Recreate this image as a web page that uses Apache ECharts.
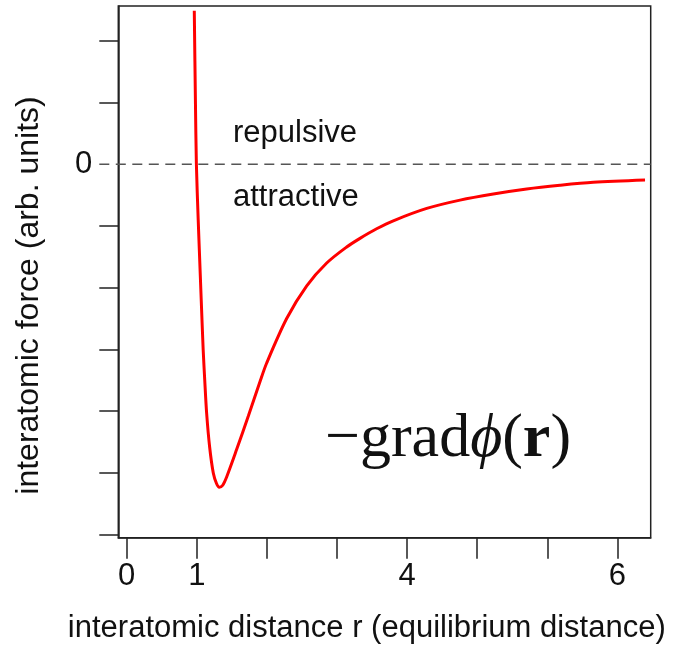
<!DOCTYPE html>
<html>
<head>
<meta charset="utf-8">
<script src="https://cdn.jsdelivr.net/npm/echarts@6/dist/echarts.min.js"></script>
<style>
  html, body { margin: 0; padding: 0; background: #fff; }
  #main { width: 674px; height: 646px; }
</style>
</head>
<body>
<div id="main"></div>
<script>
// curve (x in tick units, y in tick units, 0 = no force)
var rValues = [0.964, 0.980, 0.994, 1.020, 1.036, 1.063, 1.091, 1.113, 1.140, 1.183, 1.235, 1.281, 1.321, 1.367, 1.427,
    1.569, 1.735, 1.902, 1.997, 2.282, 2.568, 2.853, 3.138, 3.328, 3.565, 3.803, 4.280, 4.755, 5.230, 5.706, 6.181, 6.656, 7.394];
var forceValues = [2.489, 1.042, 0, -0.903, -1.389, -2.199, -3.010, -3.496, -4.031, -4.582, -5.003, -5.173, -5.235, -5.206, -5.063,
    -4.62, -4.08, -3.52, -3.22, -2.50, -1.97, -1.60, -1.34, -1.20, -1.045, -0.915, -0.715, -0.580, -0.481, -0.400, -0.340, -0.292, -0.254];

var xTicks = [0, 1, 2, 3, 4, 5, 6, 7];
var xTickLabels = ['0', '1', '', '', '4', '', '', '6'];
var yTicks = [-6, -5, -4, -3, -2, -1, 1, 2];
var yLabelTicks = [0];
var yTickLabels = ['0'];

var curve = rValues.map(function (r, i) { return [r, forceValues[i]]; });

var txtFont = 'Liberation Sans, Arial, Helvetica, sans-serif';
var frameColor = '#222';

var myChart = echarts.init(document.getElementById('main'));
var option = {
    animation: false,
    backgroundColor: '#fff',
    grid: {
        left: 118.3, right: 23.3, top: 6, bottom: 108.3,
        show: true, borderColor: frameColor, borderWidth: 1.5, backgroundColor: 'transparent'
    },
    xAxis: {
        type: 'value',
        min: -0.12,
        max: 7.475,
        axisLine: { show: true, onZero: false, lineStyle: { color: frameColor, width: 1.5 } },
        axisTick: { show: true, inside: false, length: 21, customValues: xTicks,
            lineStyle: { color: frameColor, width: 1.5 } },
        axisLabel: {
            customValues: [0, 1, 4, 7],
            margin: 23,
            fontFamily: txtFont, fontSize: 31, color: '#111',
            formatter: function (v) { return xTickLabels[Math.round(v)]; }
        },
        splitLine: { show: false }
    },
    yAxis: {
        type: 'value',
        min: -6.052,
        max: 2.566,
        axisLine: { show: true, onZero: false, lineStyle: { color: frameColor, width: 1.5 } },
        axisTick: { show: true, inside: false, length: 19, customValues: yTicks,
            lineStyle: { color: frameColor, width: 1.5 } },
        axisLabel: {
            customValues: yLabelTicks,
            margin: 26,
            fontFamily: txtFont, fontSize: 31, color: '#111',
            formatter: function (v) { return yTickLabels[yLabelTicks.indexOf(Math.round(v))]; }
        },
        splitLine: { show: false }
    },
    series: [{
        type: 'line',
        data: curve,
        showSymbol: false,
        smooth: 0.3,
        lineStyle: { color: '#ff0000', width: 3 },
        z: 5
    }]
};
myChart.setOption(option);

// dashed zero line, starting where the ticks start, outside the frame
var y0 = myChart.convertToPixel({ yAxisIndex: 0 }, 0);
var serif = 'Liberation Serif, Times New Roman, serif';
myChart.setOption({
    graphic: [
        {
            type: 'line', z: 4,
            shape: { x1: 99.3, y1: y0, x2: 650.7, y2: y0 },
            style: { stroke: '#555', lineWidth: 1.5, lineDash: [10, 6.5] }
        },
        {
            type: 'text', x: 233, y: 133, z: 10,
            style: { text: 'repulsive', font: '31px ' + txtFont, fill: '#111',
                textAlign: 'left', textVerticalAlign: 'middle' }
        },
        {
            type: 'text', x: 233, y: 197, z: 10,
            style: { text: 'attractive', font: '31px ' + txtFont, fill: '#111',
                textAlign: 'left', textVerticalAlign: 'middle' }
        },
        {
            type: 'text', x: 325, y: 440, z: 10,
            style: {
                text: '{m|−grad}{p|ϕ}{m|(}{b|r}{m|)}',
                textAlign: 'left', textVerticalAlign: 'middle',
                rich: {
                    m: { fontFamily: serif, fontSize: 62, fill: '#111' },
                    p: { fontFamily: serif, fontStyle: 'italic', fontSize: 62, fill: '#111' },
                    b: { fontFamily: serif, fontWeight: 'bold', fontSize: 62, fill: '#111' }
                }
            }
        },
        {
            type: 'text', x: 366.8, y: 628, z: 10,
            style: { text: 'interatomic distance r (equilibrium distance)', font: '31px ' + txtFont, fill: '#111',
                textAlign: 'center', textVerticalAlign: 'middle' }
        },
        {
            type: 'text', x: 29, y: 295.5, z: 10, rotation: Math.PI / 2,
            style: { text: 'interatomic force (arb. units)', font: '32px ' + txtFont, fill: '#111',
                textAlign: 'center', textVerticalAlign: 'middle' }
        }
    ]
});
</script>
</body>
</html>
